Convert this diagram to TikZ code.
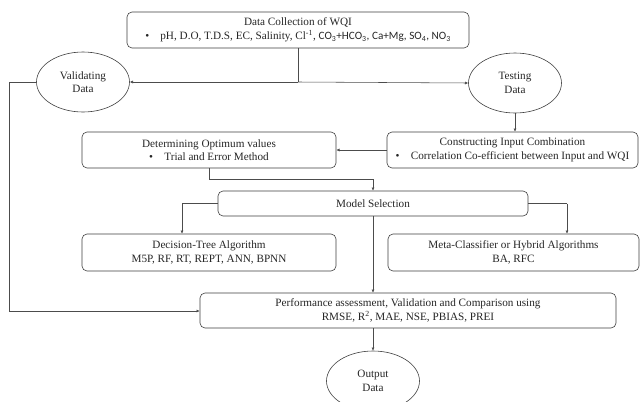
\documentclass[tikz,border=0pt]{standalone}
\usepackage{fontspec}
\setmainfont{Liberation Serif}
\newfontfamily\calib{Carlito}
\usetikzlibrary{shapes.geometric,arrows.meta}
\begin{document}
\begin{tikzpicture}[x=1pt,y=-1pt,
  every node/.style={font=\fontsize{11.2}{13.5}\selectfont, align=center, inner sep=0pt, text=black!85},
  rbox/.style={draw=black!75, line width=0.6pt, rounded corners=5pt, rectangle},
  oval/.style={draw=black!75, line width=0.6pt, ellipse, minimum width=93pt, minimum height=60pt},
  conn/.style={draw=black!70, line width=0.55pt},
  arr/.style={conn, -{Latex[length=3.2pt,width=3pt]}}]
\useasboundingbox (0,0) rectangle (641,402);
\fill[white] (0,0) rectangle (641,402);

\node[rbox, minimum width=342pt, minimum height=36pt] (top) at (298,30)
  {Data Collection of WQI\\ \textbullet\quad pH, D.O, T.D.S, EC, Salinity, Cl\textsuperscript{-1}, {\calib CO\textsubscript{3}+HCO\textsubscript{3}, Ca+Mg, SO\textsubscript{4}, NO\textsubscript{3}}};
\node[oval] (val) at (83,82) {Validating\\Data};
\node[oval] (test) at (515,83) {Testing\\Data};
\node[rbox, minimum width=254pt, minimum height=36pt] (det) at (209,150)
  {Determining Optimum values\\ \textbullet\quad Trial and Error Method};
\node[rbox, minimum width=251pt, minimum height=36pt] (con) at (512.5,150)
  {Constructing Input Combination\\ \textbullet\quad Correlation Co-efficient between Input and WQI};
\node[rbox, minimum width=310pt, minimum height=25pt] (mod) at (373,203.5) {Model Selection};
\node[rbox, minimum width=254pt, minimum height=37pt] (dec) at (209,252.5)
  {Decision-Tree Algorithm\\ M5P, RF, RT, REPT, ANN, BPNN};
\node[rbox, minimum width=251pt, minimum height=37pt] (meta) at (513.5,252.5)
  {Meta-Classifier or Hybrid Algorithms\\ BA, RFC};
\node[rbox, minimum width=416pt, minimum height=35pt] (perf) at (408,310.5)
  {Performance assessment, Validation and Comparison using\\ RMSE, R\textsuperscript{2}, MAE, NSE, PBIAS, PREI};
\node[oval] (out) at (373,381) {Output\\Data};

\coordinate (split) at (298,82);
\coordinate (lft) at (9,82);
\coordinate (lfb) at (9,311);
\coordinate (detb) at (209,179);
\coordinate (detr) at (373,179);
\coordinate (ml) at (182,203.5);
\coordinate (mr) at (567,203.5);

\draw[conn] (top.south -| split) -- (split);
\draw[arr] (split) -- (val.east);
\draw[arr] (split) -- (test.west);
\draw[conn] (val.west) -- (lft) -- (lfb);
\draw[arr] (lfb) -- (perf.west |- lfb);
\draw[arr] (test.south) -- (test.south |- con.north);
\draw[arr] (con.west) -- (det.east);
\draw[conn] (det.south) -- (detb) -- (detr);
\draw[arr] (detr) -- (detr |- mod.north);
\draw[conn] (mod.west) -- (ml);
\draw[arr] (ml) -- (ml |- dec.north);
\draw[conn] (mod.east) -- (mr);
\draw[arr] (mr) -- (mr |- meta.north);
\draw[arr] (mod.south) -- (mod.south |- perf.north);
\draw[arr] (perf.south -| out.north) -- (out.north);
\end{tikzpicture}
\end{document}
